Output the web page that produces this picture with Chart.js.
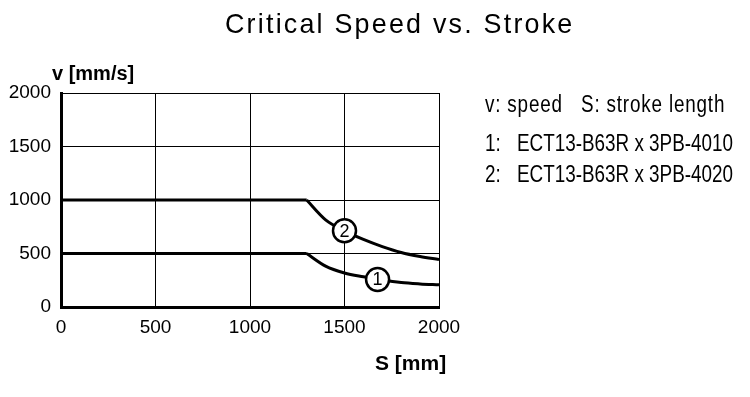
<!DOCTYPE html>
<html>
<head>
<meta charset="utf-8">
<script src="https://cdn.jsdelivr.net/npm/chart.js@4.4.1/dist/chart.umd.min.js"></script>
<style>
  html, body { margin: 0; padding: 0; background: #fff; }
  #wrap { position: relative; width: 750px; height: 397px; }
</style>
</head>
<body>
<div id="wrap"><canvas id="c" width="750" height="397"></canvas></div>
<script>
// ---- data ----
const strokeMM    = [0, 1300, 1400, 1500, 1600, 1700, 1800, 1900, 2000];
const speedCurve1 = [500, 500, 382, 318, 282, 252, 229, 216, 207];
const speedCurve2 = [1000, 1000, 815, 712, 632, 565, 510, 472, 443];
const xTickValues = [0, 500, 1000, 1500, 2000];
const yTickValues = [0, 500, 1000, 1500, 2000];
const markerLabels = ['1', '2'];
const markerStroke = [1675, 1500];
const markerSpeed  = [258, 712];
const titleText = 'Critical Speed vs. Stroke';
const yTitleText = 'v [mm/s]';
const xTitleText = 'S [mm]';
const noteText = 'v: speed   S: stroke length';
const legendNums = ['1:', '2:'];
const legendNames = ['ECT13-B63R x 3PB-4010', 'ECT13-B63R x 3PB-4020'];

// ---- build datasets ----
const KNEE = 1; // index where the curves start to fall
function pts(xs, ys, from, to) {
  const out = [];
  for (let i = from; i <= to; i++) out.push({x: xs[i], y: ys[i]});
  return out;
}
const lineStyle = {
  borderColor: '#000', borderWidth: 3, pointRadius: 0, fill: false,
  borderCapStyle: 'butt', borderJoinStyle: 'round', order: 2
};
const datasets = [
  Object.assign({label: 'c1 flat', data: pts(strokeMM, speedCurve1, 0, KNEE), tension: 0}, lineStyle),
  Object.assign({label: 'c1 fall', data: pts(strokeMM, speedCurve1, KNEE, strokeMM.length - 1), cubicInterpolationMode: 'monotone'}, lineStyle),
  Object.assign({label: 'c2 flat', data: pts(strokeMM, speedCurve2, 0, KNEE), tension: 0}, lineStyle),
  Object.assign({label: 'c2 fall', data: pts(strokeMM, speedCurve2, KNEE, strokeMM.length - 1), cubicInterpolationMode: 'monotone'}, lineStyle),
  {
    label: 'markers',
    data: markerStroke.map((s, i) => ({x: s, y: markerSpeed[i]})),
    showLine: false,
    pointRadius: 11.5,
    pointHoverRadius: 11.5,
    pointBackgroundColor: '#fff',
    pointBorderColor: '#000',
    pointBorderWidth: 2.5,
    order: 0
  }
];

const SANS = '"Liberation Sans", Arial, Helvetica, sans-serif';

// condensed text: Liberation Sans squeezed horizontally (Arial Narrow look)
function narrowText(ctx, text, x, y, size, sx, spacing) {
  ctx.save();
  ctx.translate(x, y);
  ctx.scale(sx, 1);
  ctx.font = size + 'px ' + SANS;
  try { ctx.letterSpacing = (spacing || 0) + 'px'; } catch (e) {}
  ctx.textAlign = 'left';
  ctx.textBaseline = 'alphabetic';
  ctx.fillText(text, 0, 0);
  ctx.restore();
}

const textPlugin = {
  id: 'texts',
  afterDraw(chart) {
    const ctx = chart.ctx;
    const x = chart.scales.x, y = chart.scales.y;
    ctx.save();
    ctx.fillStyle = '#000';
    // digits in the circles
    ctx.font = '18px ' + SANS;
    ctx.textAlign = 'center';
    ctx.textBaseline = 'middle';
    markerLabels.forEach((t, i) => {
      ctx.fillText(t, x.getPixelForValue(markerStroke[i]), y.getPixelForValue(markerSpeed[i]) + 1);
    });
    // title
    narrowText(ctx, titleText, 225, 33, 28, 0.96, 2.3);
    // axis titles
    ctx.textAlign = 'left';
    ctx.textBaseline = 'alphabetic';
    ctx.font = 'bold 20px ' + SANS;
    ctx.fillText(yTitleText, 52, 80);
    ctx.font = 'bold 21px ' + SANS;
    ctx.fillText(xTitleText, 375, 370);
    // notes / legend
    narrowText(ctx, noteText, 485, 112, 23, 0.82, 1.0);
    legendNums.forEach((n, i) => {
      const by = 151 + i * 31;
      narrowText(ctx, n, 485, by, 23, 0.82, 0);
      narrowText(ctx, legendNames[i], 517, by, 23, 0.82, 0);
    });
    ctx.restore();
  }
};

new Chart(document.getElementById('c'), {
  type: 'line',
  data: { datasets },
  plugins: [textPlugin],
  options: {
    responsive: false,
    animation: false,
    devicePixelRatio: 1,
    events: [],
    layout: { padding: { top: 93, right: 311, left: 0, bottom: 0 } },
    plugins: { legend: { display: false }, tooltip: { enabled: false }, title: { display: false } },
    scales: {
      x: {
        type: 'linear', min: 0, max: 2000,
        afterFit(scale) { scale.height = 90; },
        afterBuildTicks(scale) { scale.ticks = xTickValues.map(v => ({value: v})); },
        grid: { color: '#000', lineWidth: 1, drawTicks: false },
        border: { color: '#000', width: 3 },
        ticks: { color: '#000', font: { family: SANS, size: 19 }, padding: 9, maxRotation: 0,
                 callback: v => String(v) }
      },
      y: {
        type: 'linear', min: 0, max: 2000,
        afterFit(scale) { scale.width = 61; },
        afterBuildTicks(scale) { scale.ticks = yTickValues.map(v => ({value: v})); },
        grid: { color: '#000', lineWidth: 1, drawTicks: false },
        border: { color: '#000', width: 3 },
        ticks: { color: '#000', font: { family: SANS, size: 19 }, padding: 10,
                 callback: v => String(v) }
      }
    }
  }
});
</script>
</body>
</html>
